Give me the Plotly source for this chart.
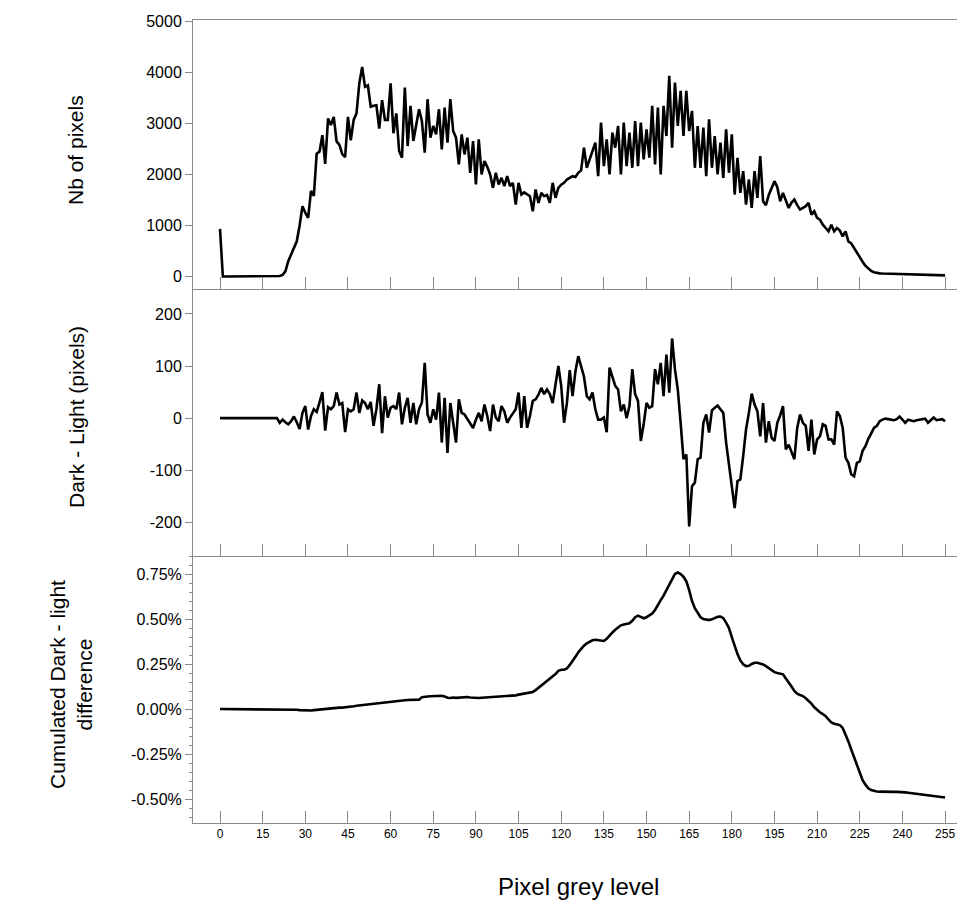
import plotly.graph_objects as go

# ---------------- data ----------------
grey_level = list(range(256))

nb_pixels = [
    935, 0, 0, 0, 0, 0, 0, 0, 0, 0, 0, 0, 0, 0, 0, 0,                       # 0-15
    0, 0, 0, 0, 0, 10, 33, 100, 300, 430, 590, 690, 1000, 1380, 1250, 1150,  # 16-31
    1680, 1580, 2410, 2450, 2770, 2210, 3100, 2970, 3130, 2650, 2580, 2400, 2340, 3130, 2670, 3070,  # 32-47
    3200, 3790, 4110, 3720, 3750, 3330, 3350, 3360, 2900, 3460, 3070, 3070, 3790, 2810, 3200, 2460,  # 48-63
    2330, 3706, 2558, 3346, 2657, 3000, 3280, 3050, 2427, 3477, 2722, 2952, 2788, 3280, 2493, 3313,  # 64-79
    2624, 3477, 2854, 2722, 2198, 2788, 2394, 2722, 2034, 2657, 1804, 2690, 2001, 2263, 2150, 2001,  # 80-95
    1738, 2034, 1804, 1935, 1771, 1968, 1771, 1837, 1410, 1837, 1607, 1650, 1607, 1574, 1279, 1706,  # 96-111
    1443, 1640, 1574, 1600, 1443, 1837, 1542, 1738, 1800, 1837, 1902, 1930, 1968, 1950, 2034, 2080,  # 112-127
    2526, 2132, 2300, 2427, 2624, 1968, 3018, 2165, 2690, 2001, 2821, 2526, 2952, 2001, 3018, 2165,  # 128-143
    2821, 2132, 3050, 2165, 3018, 2296, 2886, 2329, 3346, 2198, 3313, 2001, 3346, 2755, 3936, 2526,  # 144-159
    3805, 2952, 3641, 2755, 3641, 2854, 3247, 2132, 2952, 2132, 2919, 1968, 3083, 2132, 2755, 2001,  # 160-175
    2624, 1935, 2886, 2034, 2788, 1607, 2329, 1640, 2066, 1410, 1902, 1345, 2066, 1542, 2362, 1476,  # 176-191
    1400, 1600, 1738, 1870, 1750, 1476, 1640, 1500, 1345, 1450, 1509, 1400, 1312, 1345, 1380, 1443,  # 192-207
    1214, 1279, 1150, 1115, 1017, 951, 886, 1017, 886, 951, 900, 787, 886, 689, 650, 560,            # 208-223
    480, 380, 290, 210, 160, 112, 85, 70, 62, 58, 56, 55, 54, 53, 52, 51,                            # 224-239
    50, 48, 46, 45, 44, 42, 40, 38, 36, 34, 32, 30, 28, 26, 24, 22,                                  # 240-255
]

dark_minus_light = [
    0, 0, 0, 0, 0, 0, 0, 0, 0, 0, 0, 0, 0, 0, 0, 0,                          # 0-15
    0, 0, 0, 0, 0, -9, -3, -8, -12, -6, 3, -8, -21, 10, 23, -22,              # 16-31
    4, 17, 12, 30, 50, -24, 21, 17, 23, 49, 26, 29, -27, 17, 13, 17,          # 32-47
    49, 10, 34, 29, 17, 31, -15, 17, 65, -29, 42, 1, 20, 23, 17, 49,          # 48-63
    -12, 20, 39, -9, 29, -12, 17, 30, 106, 7, -9, 17, -3, 49, -47, 39,        # 64-79
    -67, 29, -9, -47, 36, 10, 7, -2, -9, -19, -3, 10, -6, 26, 4, -25,         # 80-95
    26, 1, -6, 23, 13, -9, 1, 10, 17, 49, -19, 42, -19, 4, 33, 36,            # 96-111
    45, 58, 46, 55, 46, 29, 68, 100, 62, -9, 29, 92, 42, 90, 119, 100,        # 112-127
    80, 42, 36, 49, 17, -3, -3, 1, -27, 97, 81, 62, 55, 13, 26, 0,            # 128-143
    23, 94, 46, 33, -44, -12, 29, 20, 23, 94, 65, 106, 42, 122, 49, 153,      # 144-159
    94, 55, -9, -79, -70, -208, -131, -124, -79, -76, -9, 7, -28, 15, 20, 24, # 160-175
    17, 10, -47, -89, -124, -173, -121, -118, -73, -22, 10, 47, 26, 13, -35, 29,  # 176-191
    -47, -6, -38, -44, -9, 5, 23, -60, -51, -65, -79, -19, 7, -9, -15, -63,   # 192-207
    -3, -70, -41, -35, -12, -15, -41, -41, -51, 13, 4, -19, -76, -86, -108, -112,  # 208-223
    -86, -83, -63, -54, -40, -30, -19, -15, -6, -3, -1, -2, -3, -4, -2, 3,    # 224-239
    -3, -9, -3, -4, -6, -4, -3, -2, -1, -9, -3, 1, -4, -3, -2, -6,            # 240-255
]

# cumulated difference, in percent
cumulated_pct = [
    0, 0, 0, 0, 0, 0, 0, 0, 0, 0, 0, 0, 0, 0, 0, 0,                                               # 0-15
    0, 0, 0, 0, 0, 0, 0, 0, 0, -0.002, -0.003, -0.004, -0.006, -0.007, -0.008, -0.009,              # 16-31
    -0.008, -0.006, -0.004, -0.003, -0.001, 0.000, 0.002, 0.004, 0.006, 0.007, 0.008, 0.008, 0.009, 0.009, 0.012, 0.015,  # 32-47
    0.018, 0.020, 0.022, 0.024, 0.026, 0.028, 0.030, 0.031, 0.034, 0.036, 0.038, 0.041, 0.043, 0.045, 0.046, 0.047,      # 48-63
    0.048, 0.049, 0.050, 0.050, 0.051, 0.052, 0.052, 0.065, 0.069, 0.070, 0.071, 0.072, 0.074, 0.073, 0.074, 0.070,      # 64-79
    0.063, 0.061, 0.064, 0.062, 0.064, 0.066, 0.068, 0.067, 0.064, 0.062, 0.062, 0.061, 0.063, 0.064, 0.063, 0.064,      # 80-95
    0.065, 0.066, 0.068, 0.070, 0.070, 0.071, 0.073, 0.074, 0.076, 0.080, 0.083, 0.084, 0.085, 0.088, 0.095, 0.105,      # 96-111
    0.118, 0.130, 0.141, 0.152, 0.165, 0.180, 0.195, 0.212, 0.218, 0.218, 0.225, 0.245, 0.265, 0.290, 0.315, 0.335,      # 112-127
    0.352, 0.365, 0.375, 0.382, 0.385, 0.384, 0.382, 0.378, 0.390, 0.410, 0.425, 0.440, 0.455, 0.465, 0.470, 0.472,      # 128-143
    0.476, 0.490, 0.510, 0.519, 0.510, 0.504, 0.510, 0.518, 0.530, 0.550, 0.580, 0.605, 0.630, 0.660, 0.690, 0.725,      # 144-159
    0.750, 0.759, 0.750, 0.735, 0.710, 0.660, 0.600, 0.560, 0.535, 0.510, 0.500, 0.497, 0.494, 0.498, 0.506, 0.512,      # 160-175
    0.514, 0.505, 0.480, 0.450, 0.400, 0.350, 0.305, 0.270, 0.248, 0.238, 0.240, 0.250, 0.257, 0.257, 0.254, 0.248,      # 176-191
    0.238, 0.228, 0.218, 0.205, 0.200, 0.198, 0.193, 0.170, 0.150, 0.125, 0.100, 0.085, 0.078, 0.072, 0.060, 0.046,      # 192-207
    0.030, 0.010, -0.006, -0.018, -0.028, -0.040, -0.058, -0.075, -0.082, -0.086, -0.089, -0.105, -0.140, -0.180, -0.225, -0.270,  # 208-223
    -0.315, -0.360, -0.395, -0.420, -0.440, -0.450, -0.455, -0.458, -0.459, -0.460, -0.460, -0.460, -0.460, -0.460, -0.460, -0.460,  # 224-239
    -0.462, -0.463, -0.465, -0.467, -0.469, -0.471, -0.473, -0.475, -0.477, -0.479, -0.482, -0.486, -0.488, -0.489, -0.490, -0.491,  # 240-255
]
cumulated_frac = [v / 100 for v in cumulated_pct]

x_tickvals = list(range(0, 256, 15))
x_ticktext = [str(v) for v in x_tickvals]
y1_tickvals = [0, 1000, 2000, 3000, 4000, 5000]
y1_ticktext = ["0", "1000", "2000", "3000", "4000", "5000"]
y2_tickvals = [-200, -100, 0, 100, 200]
y2_ticktext = ["-200", "-100", "0", "100", "200"]
y3_tickvals = [-0.005, -0.0025, 0, 0.0025, 0.005, 0.0075]
y3_ticktext = ["-0.50%", "-0.25%", "0.00%", "0.25%", "0.50%", "0.75%"]

# ---------------- figure ----------------
FONT = "Liberation Sans, Arial, sans-serif"
LINE = dict(color="black", width=2.6)
AX = "#8a8a8a"

fig = go.Figure()
fig.add_trace(go.Scatter(x=grey_level, y=nb_pixels, mode="lines", line=LINE,
                         xaxis="x", yaxis="y", showlegend=False))
fig.add_trace(go.Scatter(x=grey_level, y=dark_minus_light, mode="lines", line=LINE,
                         xaxis="x2", yaxis="y2", showlegend=False))
fig.add_trace(go.Scatter(x=grey_level, y=cumulated_frac, mode="lines", line=LINE,
                         xaxis="x3", yaxis="y3", showlegend=False))

xr = [-9.5, 259.2]
xcommon = dict(range=xr, tickvals=x_tickvals, ticktext=x_ticktext, ticks="inside",
               ticklen=12, tickwidth=1, tickcolor=AX, showline=True, linecolor=AX,
               linewidth=1, showgrid=False, zeroline=False,
               tickfont=dict(family=FONT, size=12, color="black"))
ycommon = dict(ticks="outside", ticklen=7, tickwidth=1, tickcolor=AX, showline=True,
               linecolor=AX, linewidth=1, showgrid=False, zeroline=False,
               tickfont=dict(family=FONT, size=16, color="black"))

d_top = [0.665, 1.0]
d_mid = [0.3325, 0.665]
d_bot = [0.0, 0.3325]

fig.update_layout(
    width=957, height=902,
    margin=dict(l=193, r=0, t=20, b=79),
    paper_bgcolor="white", plot_bgcolor="white",
    xaxis=dict(xcommon, domain=[0, 1], anchor="y", showticklabels=False, mirror=True),
    xaxis2=dict(xcommon, domain=[0, 1], anchor="y2", showticklabels=False),
    xaxis3=dict(xcommon, domain=[0, 1], anchor="y3", showticklabels=True),
    yaxis=dict(ycommon, domain=d_top, anchor="x", range=[-245, 5030],
               tickvals=y1_tickvals, ticktext=y1_ticktext),
    yaxis2=dict(ycommon, domain=d_mid, anchor="x2", range=[-265, 248],
                tickvals=y2_tickvals, ticktext=y2_ticktext),
    yaxis3=dict(ycommon, domain=d_bot, anchor="x3", range=[-0.00633, 0.0085],
                tickvals=y3_tickvals, ticktext=y3_ticktext,
                minor=dict(tickvals=[v / 10000 for v in range(-60, 86, 5)],
                           ticks="outside", ticklen=3, tickcolor=AX)),
)

ann_font = dict(family=FONT, size=21, color="black")
fig.add_annotation(text="Nb of pixels", xref="paper", yref="paper",
                   x=(76 - 193) / 764, y=(823 - 150) / 803, showarrow=False,
                   textangle=-90, font=ann_font, xanchor="center", yanchor="middle")
fig.add_annotation(text="Dark - Light (pixels)", xref="paper", yref="paper",
                   x=(76 - 193) / 764, y=(823 - 417) / 803, showarrow=False,
                   textangle=-90, font=ann_font, xanchor="center", yanchor="middle")
fig.add_annotation(text="Cumulated Dark - light<br>difference", xref="paper", yref="paper",
                   x=(71 - 193) / 764, y=(823 - 685) / 803, showarrow=False,
                   textangle=-90, font=ann_font, xanchor="center", yanchor="middle")
fig.add_annotation(text="Pixel grey level", xref="paper", yref="paper",
                   x=(578 - 193) / 764, y=(823 - 886) / 803, showarrow=False,
                   font=dict(family=FONT, size=24, color="black"),
                   xanchor="center", yanchor="middle")

fig.write_html(
    "out.html",
    config={"displayModeBar": False},
    post_script="document.body.style.margin='0';document.body.style.overflow='hidden';",
)
